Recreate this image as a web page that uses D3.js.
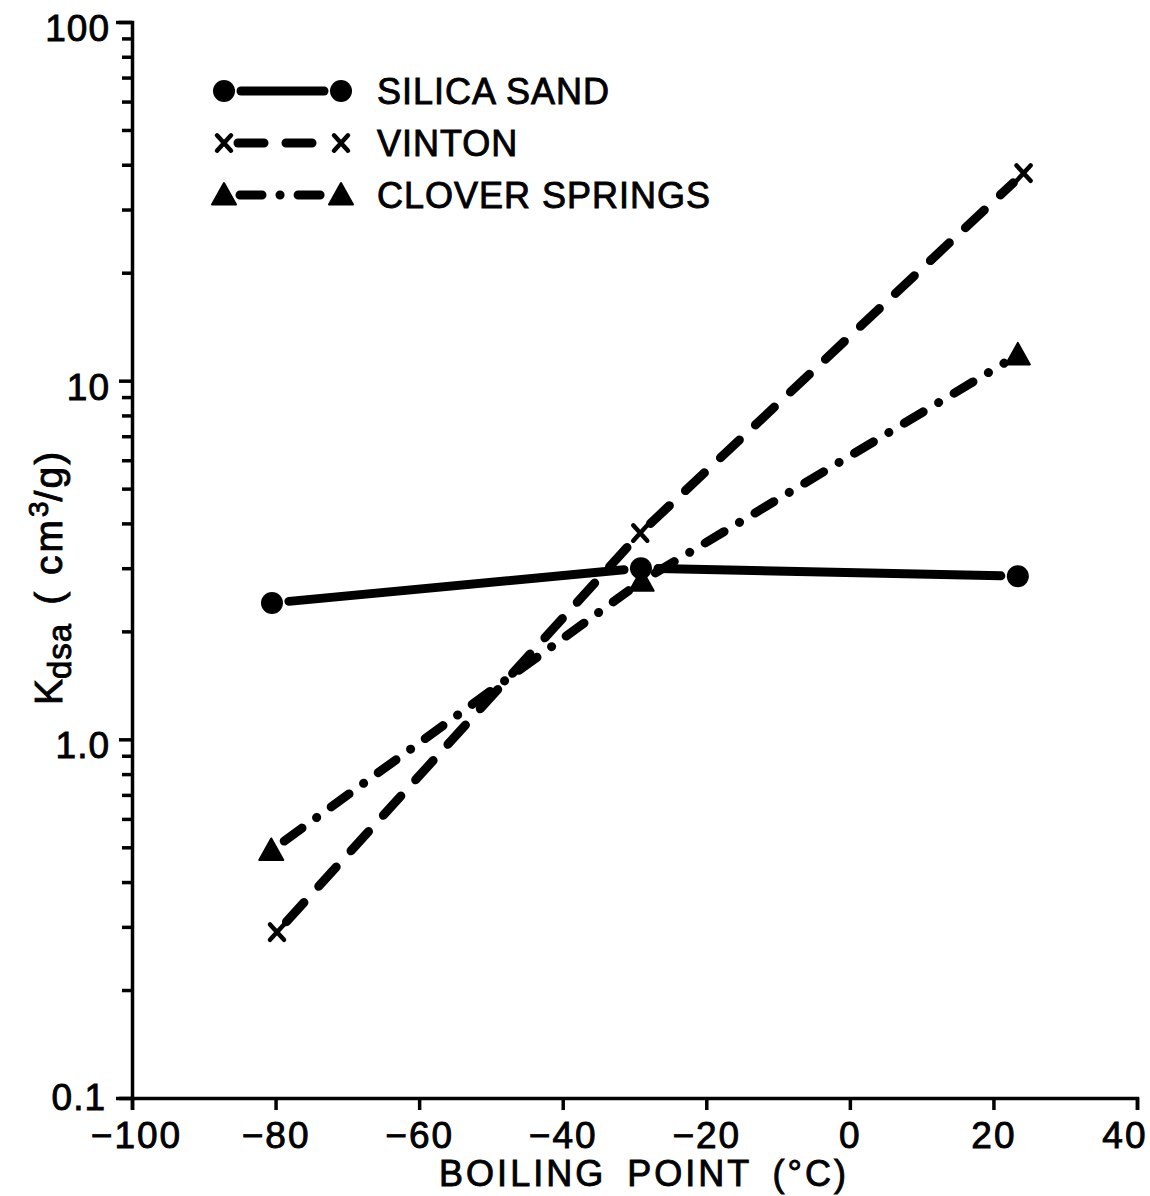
<!DOCTYPE html>
<html>
<head>
<meta charset="utf-8">
<script src="https://cdn.jsdelivr.net/npm/d3@7"></script>
<style>
  body { margin: 0; background: #fff; }
  svg { display: block; font-family: "Liberation Sans", Arial, sans-serif; }
  svg text { stroke: #000; stroke-width: 0.9px; fill: #000; }
</style>
</head>
<body>
<div id="chart"></div>
<script>
// Data
const seriesNames = ['SILICA SAND', 'VINTON', 'CLOVER SPRINGS'];
const silicaX = [-80.5, -29.1, 23.4];
const silicaY = [2.4, 3.0, 2.85];
const vintonX = [-79.8, -29.2, 24.2];
const vintonY = [0.29, 3.76, 37.9];
const cloverX = [-80.6, -29.0, 23.4];
const cloverY = [0.49, 2.76, 11.8];

const xTicks = [-100, -80, -60, -40, -20, 0, 20, 40];
const yMajor = [0.1, 1, 10, 100];
const yTickLabels = ['0.1', '1.0', '10', '100'];

const width = 1150, height = 1196;
const margin = { left: 132, right: 13, top: 22, bottom: 98 };

const svg = d3.select('#chart').append('svg')
    .attr('width', width)
    .attr('height', height);

const x = d3.scaleLinear().domain([-100, 40]).range([margin.left, width - margin.right]);
const y = d3.scaleLog().domain([0.1, 100]).range([height - margin.bottom, margin.top]);

// minor log ticks
const yMinor = [];
[0.1, 1, 10].forEach(d => {
    for (let k = 2; k <= 9; k++) yMinor.push(+(d * k).toPrecision(3));
});

// Axes
const xAxis = svg.append('g')
    .attr('transform', 'translate(0,' + (height - margin.bottom) + ')')
    .call(d3.axisBottom(x).tickValues(xTicks).tickSize(12).tickSizeOuter(12).tickPadding(12)
        .tickFormat(d => String(d).replace('-', '\u2212')));
xAxis.select('.domain').attr('stroke-width', 3.5);
xAxis.selectAll('.tick line').attr('stroke-width', 3.5);
xAxis.selectAll('.tick text')
    .attr('font-size', 37)
    .attr('letter-spacing', 2)
    .attr('text-anchor', d => d === 40 ? 'end' : 'middle')
    .attr('x', d => d === 40 ? 10 : (d === -100 ? 4 : 0));

const yAxis = svg.append('g')
    .attr('transform', 'translate(' + margin.left + ',0)')
    .call(d3.axisLeft(y).tickValues(yMinor.concat(yMajor)).tickSize(10).tickSizeOuter(16)
        .tickFormat(d => {
            const i = yMajor.indexOf(d);
            return i >= 0 ? yTickLabels[i] : '';
        }));
yAxis.select('.domain').attr('stroke-width', 3.5);
yAxis.selectAll('.tick line').attr('stroke-width', 3.5)
    .attr('x2', d => yMajor.indexOf(d) >= 0 ? -13 : -10);
yAxis.selectAll('.tick text')
    .attr('font-size', 37)
    .attr('letter-spacing', 1)
    .attr('x', d => d === 0.1 ? -26 : -22)
    .attr('dy', d => d === 0.1 ? '0.3em' : '0.5em');

// Axis titles
svg.append('text')
    .attr('x', 644)
    .attr('y', 1186)
    .attr('text-anchor', 'middle')
    .attr('font-size', 36)
    .attr('letter-spacing', 3)
    .attr('word-spacing', 8)
    .text('BOILING POINT (\u00B0C)');

const yTitle = svg.append('text')
    .attr('transform', 'translate(62,705) rotate(-90)')
    .attr('font-size', 39);
yTitle.append('tspan').text('K');
yTitle.append('tspan').attr('font-size', 33).attr('dy', 9).attr('letter-spacing', 1).text('dsa');
yTitle.append('tspan').attr('dy', -9).attr('dx', 18).attr('letter-spacing', 3).text('( cm');
yTitle.append('tspan').attr('font-size', 28).attr('dy', -14).text('3');
yTitle.append('tspan').attr('dy', 14).attr('letter-spacing', 2).text('/g)');

// Series definitions
const series = [
    { name: seriesNames[0], xs: silicaX, ys: silicaY, marker: 'circle', dash: null, gap: 17 },
    { name: seriesNames[1], xs: vintonX, ys: vintonY, marker: 'x', dash: '26,22', gap: 14 },
    { name: seriesNames[2], xs: cloverX, ys: cloverY, marker: 'triangle', dash: '22,18,0.1,18', gap: 16 }
];

function drawMarker(g, type, px, py) {
    if (type === 'circle') {
        g.append('circle').attr('cx', px).attr('cy', py).attr('r', 11).attr('fill', '#000');
    } else if (type === 'triangle') {
        const s = 12;
        g.append('path')
            .attr('d', 'M' + px + ',' + (py - s) + 'L' + (px + s) + ',' + (py + s * 0.8) + 'L' + (px - s) + ',' + (py + s * 0.8) + 'Z')
            .attr('fill', '#000')
            .attr('stroke', '#000')
            .attr('stroke-width', 2)
            .attr('stroke-linejoin', 'round');
    } else {
        const s = 7;
        g.append('path')
            .attr('d', 'M' + (px - s) + ',' + (py - s * 1.1) + 'L' + (px + s) + ',' + (py + s * 1.1) +
                'M' + (px + s) + ',' + (py - s * 1.1) + 'L' + (px - s) + ',' + (py + s * 1.1))
            .attr('stroke', '#000')
            .attr('stroke-width', 4.5)
            .attr('fill', 'none')
            .attr('stroke-linecap', 'round');
    }
}

function drawSegment(g, p, q, gap, dash) {
    const dx = q[0] - p[0], dy = q[1] - p[1];
    const len = Math.sqrt(dx * dx + dy * dy);
    const ux = dx / len, uy = dy / len;
    const line = g.append('line')
        .attr('x1', p[0] + ux * gap).attr('y1', p[1] + uy * gap)
        .attr('x2', q[0] - ux * gap).attr('y2', q[1] - uy * gap)
        .attr('stroke', '#000')
        .attr('stroke-width', 9)
        .attr('stroke-linecap', 'round');
    if (dash) line.attr('stroke-dasharray', dash);
}

const plot = svg.append('g');
series.forEach(s => {
    const pts = s.xs.map((v, i) => [x(v), y(s.ys[i])]);
    for (let i = 0; i < pts.length - 1; i++) {
        drawSegment(plot, pts[i], pts[i + 1], s.gap, s.dash);
    }
    pts.forEach(p => drawMarker(plot, s.marker, p[0], p[1]));
});

// Legend
const legend = svg.append('g');
series.forEach((s, i) => {
    const ly = 91 + i * 52;
    const a = [224, ly], b = [341, ly];
    drawSegment(legend, a, b, s.gap, s.dash);
    drawMarker(legend, s.marker, a[0], a[1]);
    drawMarker(legend, s.marker, b[0], b[1]);
    legend.append('text')
        .attr('x', 377)
        .attr('y', ly + 13)
        .attr('font-size', 36)
        .attr('letter-spacing', 1)
        .text(s.name);
});
</script>
</body>
</html>
